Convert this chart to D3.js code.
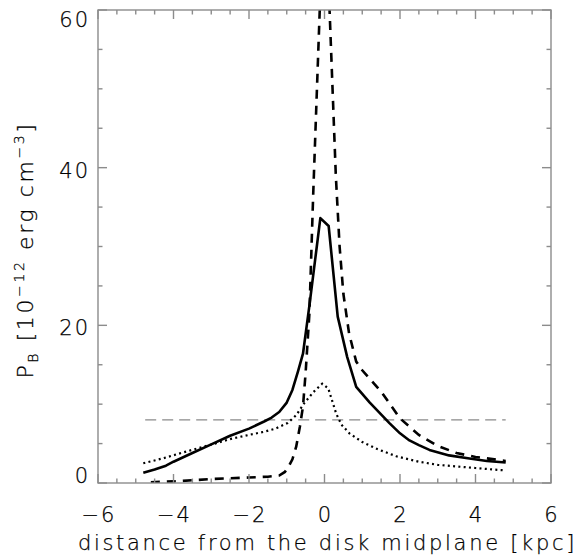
<!DOCTYPE html>
<html>
<head>
<meta charset="utf-8">
<script src="https://cdn.jsdelivr.net/npm/d3@7"></script>
<style>
  body { margin: 0; background: #fff; }
  svg { display: block; }
  text { font-family: "DejaVu Sans ExtraLight", "DejaVu Sans", sans-serif; font-weight: 300; fill: #000; stroke: #000; stroke-width: 0.25px; letter-spacing: 2px; }
</style>
</head>
<body>
<div id="chart"></div>
<script>
// solid line: total magnetic pressure
var solidX = [-4.8, -4.5, -4.2, -4.0, -3.5, -3.0, -2.5, -2.0, -1.6, -1.4, -1.2, -1.0, -0.85, -0.7, -0.57, -0.4, -0.11, 0.11, 0.35, 0.6, 0.84, 1.2, 1.72, 2.0, 2.25, 2.5, 2.78, 3.3, 3.84, 4.3, 4.8];
var solidY = [1.3, 1.7, 2.2, 2.7, 3.8, 4.9, 6.0, 6.9, 7.8, 8.3, 9.0, 10.2, 11.8, 14.2, 16.4, 22.5, 33.6, 32.6, 21.1, 16.0, 12.2, 10.2, 7.6, 6.3, 5.4, 4.8, 4.2, 3.5, 3.1, 2.8, 2.6];

// dashed line (goes off the top of the plot)
var dashX = [-4.6, -4.0, -3.5, -3.0, -2.5, -2.0, -1.5, -1.2, -1.05, -0.95, -0.85, -0.75, -0.65, -0.57, -0.5, -0.4, -0.3, 0.0, 0.3, 0.4, 0.5, 0.65, 0.84, 1.0, 1.5, 1.72, 2.0, 2.5, 3.0, 3.5, 4.0, 4.5, 4.8];
var dashY = [0.1, 0.2, 0.35, 0.5, 0.6, 0.7, 0.8, 0.95, 1.4, 2.1, 3.0, 4.6, 7.2, 9.7, 14.0, 21.5, 36.5, 77.0, 39.0, 30.0, 24.0, 19.0, 15.4, 14.3, 11.6, 10.1, 8.2, 6.1, 4.7, 3.8, 3.3, 3.0, 2.8];

// dotted line
var dotX = [-4.8, -4.3, -3.8, -3.36, -2.9, -2.48, -2.0, -1.6, -1.3, -0.98, -0.75, -0.54, -0.3, -0.06, 0.1, 0.31, 0.45, 0.66, 1.0, 1.4, 1.9, 2.5, 3.0, 3.5, 4.0, 4.5, 4.8];
var dotY = [2.5, 3.1, 3.8, 4.4, 5.0, 5.6, 6.1, 6.5, 6.9, 7.6, 8.6, 10.1, 11.5, 12.6, 12.0, 8.8, 7.4, 6.3, 5.2, 4.3, 3.4, 2.7, 2.3, 2.1, 1.9, 1.7, 1.6];

// grey reference level
var refLevel = 8;
var refRange = [-4.75, 4.8];

var xTicks = [-6, -4, -2, 0, 2, 4, 6];
var yTicks = [0, 20, 40, 60];
var xLabels = ['\u22126', '\u22124', '\u22122', '0', '2', '4', '6'];
var yLabels = ['0', '20', '40', '60'];

var W = 576, H = 558;
var plotL = 98, plotR = 551, plotT = 10, plotB = 483;

var svg = d3.select('#chart').append('svg')
  .attr('width', W)
  .attr('height', H);

var x = d3.scaleLinear().domain([-6, 6]).range([plotL, plotR]);
var y = d3.scaleLinear().domain([0, 60]).range([plotB, plotT]);

svg.append('clipPath').attr('id', 'plotclip')
  .append('rect')
  .attr('x', plotL).attr('y', plotT)
  .attr('width', plotR - plotL).attr('height', plotB - plotT);

function zip(xs, ys) {
  var out = [];
  for (var i = 0; i < xs.length; i++) {
    out.push([xs[i], ys[i]]);
  }
  return out;
}

var line = d3.line()
  .x(function(d) { return x(d[0]); })
  .y(function(d) { return y(d[1]); });

var plot = svg.append('g').attr('clip-path', 'url(#plotclip)');

// reference level
plot.append('path')
  .datum([[refRange[0], refLevel], [refRange[1], refLevel]])
  .attr('d', line)
  .attr('fill', 'none')
  .attr('stroke', '#8a8a8a')
  .attr('stroke-width', 1.3)
  .attr('stroke-dasharray', '11,6');

plot.append('path')
  .datum(zip(dotX, dotY))
  .attr('d', line)
  .attr('fill', 'none')
  .attr('stroke', '#000')
  .attr('stroke-width', 2.2)
  .attr('stroke-dasharray', '2,3.3');

plot.append('path')
  .datum(zip(dashX, dashY))
  .attr('d', line)
  .attr('fill', 'none')
  .attr('stroke', '#000')
  .attr('stroke-width', 2.6)
  .attr('stroke-dasharray', '9,7');

plot.append('path')
  .datum(zip(solidX, solidY))
  .attr('d', line)
  .attr('fill', 'none')
  .attr('stroke', '#000')
  .attr('stroke-width', 2.6)
  .attr('stroke-linejoin', 'round');

// frame with ticks on all four sides
var axisColor = '#8c8c8c';
var xMinor = d3.range(-6, 6.01, 0.5);
var yMinor = d3.range(0, 60.1, 5);

function tickLen(v, step) {
  return Math.abs(v / step - Math.round(v / step)) < 1e-6 ? 9 : 4.5;
}

var frame = svg.append('g').attr('stroke', axisColor).attr('stroke-width', 1.4);

frame.append('rect')
  .attr('x', plotL).attr('y', plotT)
  .attr('width', plotR - plotL).attr('height', plotB - plotT)
  .attr('fill', 'none');

xMinor.forEach(function(v) {
  var len = tickLen(v, 2);
  frame.append('line').attr('x1', x(v)).attr('x2', x(v)).attr('y1', plotB).attr('y2', plotB - len);
  frame.append('line').attr('x1', x(v)).attr('x2', x(v)).attr('y1', plotT).attr('y2', plotT + len);
});

yMinor.forEach(function(v) {
  var len = tickLen(v, 20);
  frame.append('line').attr('y1', y(v)).attr('y2', y(v)).attr('x1', plotL).attr('x2', plotL + len);
  frame.append('line').attr('y1', y(v)).attr('y2', y(v)).attr('x1', plotR).attr('x2', plotR - len);
});

// tick labels
svg.append('g').selectAll('text')
  .data(xTicks)
  .enter().append('text')
  .attr('x', function(d) { return x(d) + 1; })
  .attr('y', 522)
  .attr('text-anchor', 'middle')
  .attr('font-size', 21)
  .text(function(d, i) { return xLabels[i]; });

svg.append('g').selectAll('text')
  .data(yTicks)
  .enter().append('text')
  .attr('x', 90)
  .attr('y', function(d) {
    // IDL keeps end labels inside the axis range
    if (d === 60) return y(d) + 17;
    if (d === 0) return y(d);
    return y(d) + 10;
  })
  .attr('text-anchor', 'end')
  .attr('font-size', 21)
  .text(function(d, i) { return yLabels[i]; });

// axis titles
svg.append('text')
  .attr('x', (plotL + plotR) / 2 + 3)
  .attr('y', 550)
  .attr('text-anchor', 'middle')
  .attr('font-size', 21)
  .style('letter-spacing', '2.7px')
  .text('distance from the disk midplane [kpc]');

var yt = svg.append('text')
  .attr('transform', 'translate(33,250) rotate(-90)')
  .attr('text-anchor', 'middle')
  .attr('font-size', 22)
  .style('letter-spacing', '2.6px');
yt.append('tspan').text('P');
yt.append('tspan').attr('font-size', 14).attr('dy', 5).text('B');
yt.append('tspan').attr('dy', -5).text(' [10');
yt.append('tspan').attr('font-size', 14).attr('dy', -9).text('\u221212');
yt.append('tspan').attr('dy', 9).text(' erg cm');
yt.append('tspan').attr('font-size', 14).attr('dy', -9).text('\u22123');
yt.append('tspan').attr('dy', 9).text(']');
</script>
</body>
</html>
